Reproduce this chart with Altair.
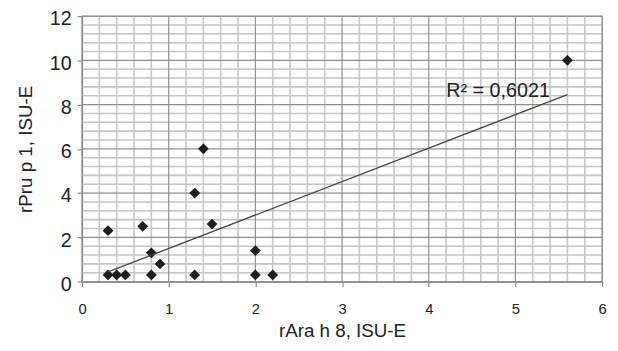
import altair as alt
import pandas as pd

# data
x_vals = [0.3, 0.3, 0.4, 0.5, 0.7, 0.8, 0.8, 0.9, 1.3, 1.3, 1.5, 1.4, 2.0, 2.0, 2.2, 5.6]
y_vals = [2.3, 0.3, 0.3, 0.3, 2.5, 1.3, 0.3, 0.8, 4.0, 0.3, 2.6, 6.0, 1.4, 0.3, 0.3, 10.0]
r2_label = ["R² = 0,6021"]
r2_pos_x = [4.8]
r2_pos_y = [8.63]

x_major = [0, 1, 2, 3, 4, 5, 6]
y_major = [0, 2, 4, 6, 8, 10, 12]
x_minor = [round(i * 0.2, 1) for i in range(31) if i % 5 != 0]
y_minor = [round(i * 0.4, 1) for i in range(31) if i % 5 != 0]

df = pd.DataFrame({"x": x_vals, "y": y_vals})
lab = pd.DataFrame({"x": r2_pos_x, "y": r2_pos_y, "t": r2_label})

FONT = "Liberation Sans"
TXT = "#222222"
MINOR = "#c6c6c6"
MAJOR = "#8f8f8f"
XT = "rAra h 8, ISU-E"
YT = "rPru p 1, ISU-E"

xscale = alt.Scale(domain=[0, 6], nice=False, zero=True)
yscale = alt.Scale(domain=[0, 12], nice=False, zero=True)

xaxis = alt.Axis(
    values=x_major, format="d", grid=False, labelOverlap=False,
    tickColor="#888888", tickSize=5, tickWidth=1.2,
    domainColor="#888888", domainWidth=1.2,
    labelFont=FONT, labelFontSize=15, labelColor=TXT, labelPadding=15,
    labelFlush=False,
    title=XT, titleFont=FONT, titleFontSize=19, titleFontWeight="normal",
    titleColor=TXT, titlePadding=6,
)
yaxis = alt.Axis(
    values=y_major, format="d", grid=False, labelOverlap=False,
    tickColor="#888888", tickSize=5, tickWidth=1.2,
    domainColor="#888888", domainWidth=1.2,
    labelFont=FONT, labelFontSize=20, labelColor=TXT, labelPadding=6,
    labelFlush=False, labelOffset=3,
    title=YT, titleFont=FONT, titleFontSize=19, titleFontWeight="normal",
    titleColor=TXT, titlePadding=14,
)

def vrules(vals, color, width):
    return alt.Chart(pd.DataFrame({"g": vals})).mark_rule(color=color, strokeWidth=width).encode(
        x=alt.X("g:Q", scale=xscale, axis=xaxis, title=XT)
    )

def hrules(vals, color, width):
    return alt.Chart(pd.DataFrame({"g": vals})).mark_rule(color=color, strokeWidth=width).encode(
        y=alt.Y("g:Q", scale=yscale, axis=yaxis, title=YT)
    )

grid = [
    vrules(x_minor, MINOR, 1.6),
    hrules(y_minor, MINOR, 1.6),
    vrules(x_major, MAJOR, 1.2),
    hrules(y_major, MAJOR, 1.2),
]

points = alt.Chart(df).mark_point(
    shape="diamond", filled=True, size=120, color="#1e1e1e", opacity=1
).encode(
    x=alt.X("x:Q", scale=xscale, axis=xaxis, title=XT),
    y=alt.Y("y:Q", scale=yscale, axis=yaxis, title=YT),
)

trend = alt.Chart(df).transform_regression("x", "y", method="linear").mark_line(
    color="#444444", strokeWidth=1.3
).encode(
    x=alt.X("x:Q", scale=xscale, axis=xaxis, title=XT),
    y=alt.Y("y:Q", scale=yscale, axis=yaxis, title=YT),
)

label = alt.Chart(lab).mark_text(
    font=FONT, fontSize=20, color=TXT, align="center", baseline="middle"
).encode(
    x=alt.X("x:Q", scale=xscale, axis=xaxis, title=XT),
    y=alt.Y("y:Q", scale=yscale, axis=yaxis, title=YT),
    text="t:N",
)

chart = alt.layer(*grid, points, trend, label).properties(
    width=527, height=269,
    autosize=alt.AutoSizeParams(type="none"),
    padding={"left": 75, "top": 6, "right": 8, "bottom": 60},
    background="white",
).configure_view(stroke="#999999", strokeWidth=1.2)

chart.save("out.html", embed_options={"renderer": "svg", "actions": False})
